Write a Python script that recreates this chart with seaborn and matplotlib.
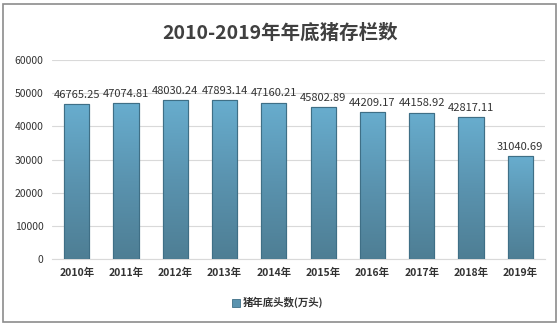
import numpy as np
import pandas as pd
import matplotlib
matplotlib.use("Agg")
import matplotlib.pyplot as plt
import seaborn as sns
from matplotlib.patches import Rectangle
from matplotlib.colors import LinearSegmentedColormap

years = ["2010年", "2011年", "2012年", "2013年", "2014年",
         "2015年", "2016年", "2017年", "2018年", "2019年"]
stock = [46765.25, 47074.81, 48030.24, 47893.14, 47160.21,
         45802.89, 44209.17, 44158.92, 42817.11, 31040.69]
y_ticks = [0, 10000, 20000, 30000, 40000, 50000, 60000]
title = "2010-2019年年底猪存栏数"
series_name = "猪年底头数(万头)"

sns.set_theme(style="white")
plt.rcParams['font.family'] = ['Noto Sans CJK SC', 'DejaVu Sans']

df = pd.DataFrame({"year": years, "value": stock})

fig = plt.figure(figsize=(5.6, 3.27), dpi=100)
ax = fig.add_axes([0.093, 0.208, 0.88, 0.608])

sns.barplot(data=df, x="year", y="value", color="#5E9CBA", width=0.51,
            edgecolor="#3F6F86", linewidth=0.8, ax=ax, zorder=3)

# vertical gradient fill for each bar
cmap = LinearSegmentedColormap.from_list("bar", ["#4E7E94", "#5A93AF", "#68ADCE"])
grad = np.linspace(0, 1, 256).reshape(-1, 1)
for p in ax.patches:
    x0, y0 = p.get_x(), p.get_y()
    w, h = p.get_width(), p.get_height()
    im = ax.imshow(grad, cmap=cmap, aspect="auto", origin="lower",
                   extent=[x0, x0 + w, y0, y0 + h], zorder=3.5)
    im.set_clip_path(p)
    ax.add_patch(Rectangle((x0, y0), w, h, fill=False, edgecolor="#3F6F86",
                           linewidth=0.8, zorder=4))

ax.set_xlim(-0.5, len(years) - 0.5)
ax.set_ylim(0, 60000)
ax.set_yticks(y_ticks)
ax.set_yticklabels([str(t) for t in y_ticks], fontsize=7.5, color="#333333")
ax.set_xticks(range(len(years)))
ax.set_xticklabels(years, fontsize=7.5, color="#333333", fontweight="bold")
ax.tick_params(axis="both", length=0, pad=6)
ax.set_xlabel("")
ax.set_ylabel("")
ax.grid(axis="y", color="#D9D9D9", linewidth=0.8, zorder=0)
for s in ["top", "right", "left"]:
    ax.spines[s].set_visible(False)
ax.spines["bottom"].set_color("#D9D9D9")
ax.spines["bottom"].set_linewidth(0.8)

for i, v in enumerate(stock):
    ax.text(i, v + 1300, f"{v:.2f}", ha="center", va="bottom",
            fontsize=8, color="#333333", zorder=5)

fig.text(0.5, 0.9, title, ha="center", va="center", fontsize=14,
         fontweight="bold", color="#404040")

# legend
fig.patches.append(Rectangle((0.415, 0.062), 0.013, 0.024, transform=fig.transFigure,
                             facecolor="#5A93AF", edgecolor="#3F6F86", linewidth=0.6))
fig.text(0.433, 0.074, series_name, ha="left", va="center", fontsize=7.5,
         color="#333333", fontweight="bold")

# outer frame
fig.patches.append(Rectangle((0.006, 0.014), 0.987, 0.975, transform=fig.transFigure,
                             fill=False, edgecolor="#8C8C8C", linewidth=1.2))

fig.savefig("out.png", dpi=100)
